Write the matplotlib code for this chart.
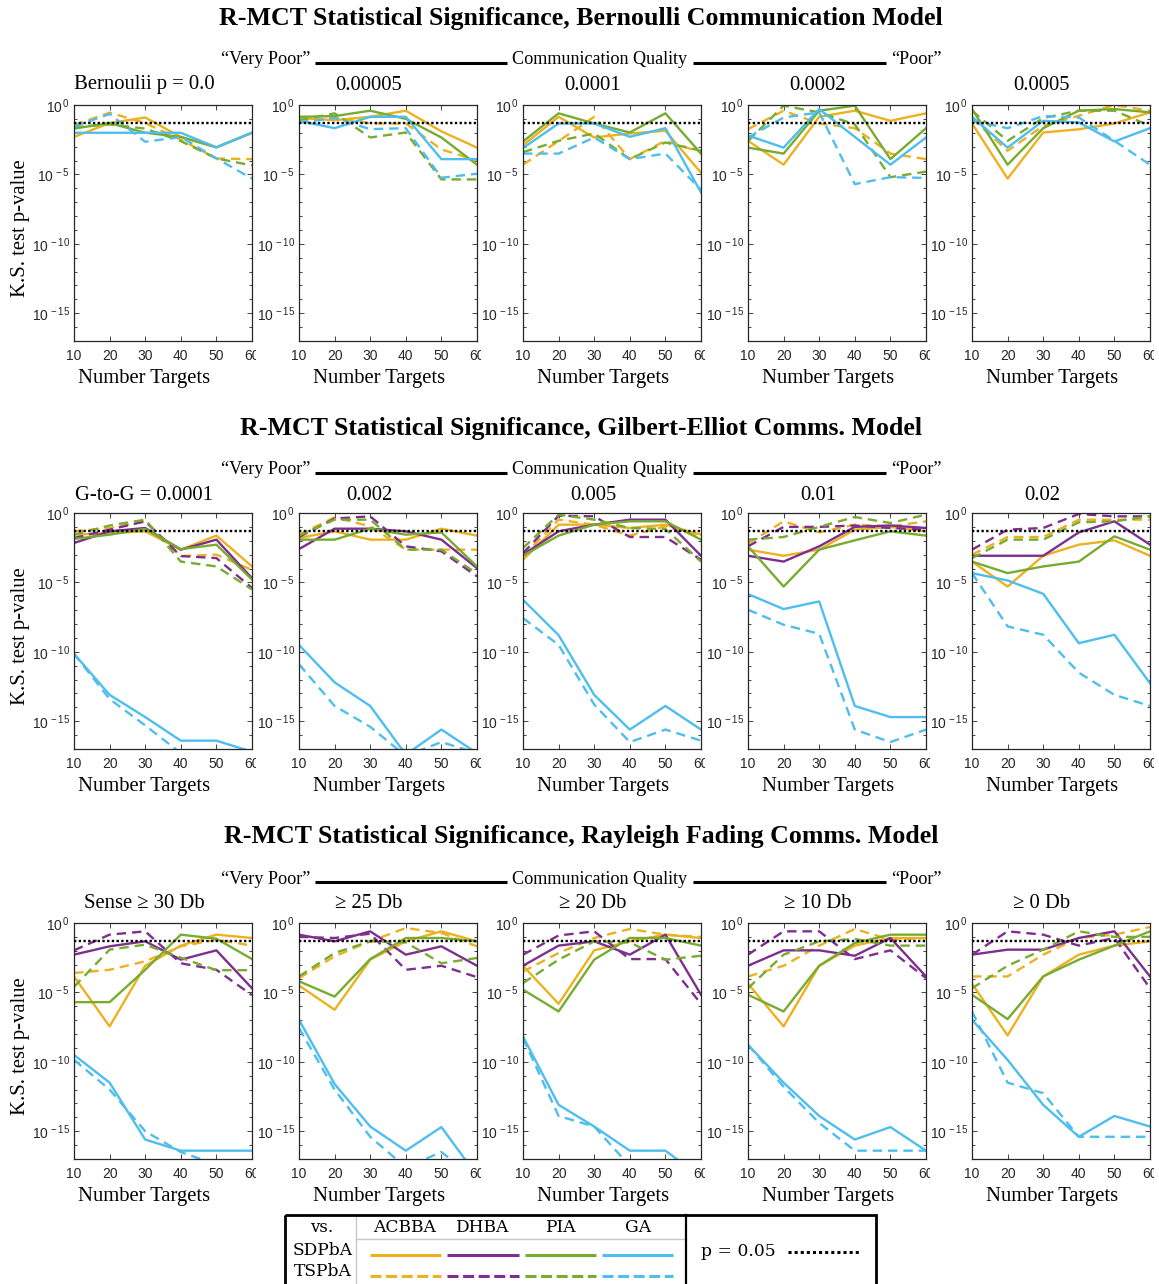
import numpy as np
import matplotlib
matplotlib.use("Agg")
import matplotlib.pyplot as plt
from matplotlib.patches import Rectangle
from matplotlib.ticker import NullFormatter
from matplotlib.transforms import Bbox, TransformedBbox

# ---------------------------------------------------------------------------
# Data: log10 of the K.S. test p-value for each algorithm,
# given as (vs. SDPbA, vs. TSPbA) over the number of targets.
# ---------------------------------------------------------------------------
targets = [10, 20, 30, 40, 50, 60]
alpha_level = 0.05
algorithms = ["ACBBA", "DHBA", "PIA", "GA"]
baselines = ["SDPbA", "TSPbA"]

bern_titles = ["Bernoulii p = 0.0", "0.00005", "0.0001", "0.0002", "0.0005"]
ge_titles = ["G-to-G = 0.0001", "0.002", "0.005", "0.01", "0.02"]
ray_titles = ["Sense \u2265 30 Db", "\u2265 25 Db", "\u2265 20 Db", "\u2265 10 Db", "\u2265 0 Db"]

row_titles = [
    "R-MCT Statistical Significance, Bernoulli Communication Model",
    "R-MCT Statistical Significance, Gilbert-Elliot Comms. Model",
    "R-MCT Statistical Significance, Rayleigh Fading Comms. Model",
]

# Bernoulli communication model
bern_0 = {
    "ACBBA": ([-2.3, -1.3, -0.9, -2.3, -3.05, -2.0], [-1.45, -0.55, -1.3, -2.5, -3.85, -3.9]),
    "PIA":   ([-1.7, -1.3, -2.0, -2.3, -3.05, -2.0], [-1.6, -1.4, -1.7, -2.6, -3.85, -4.35]),
    "GA":    ([-2.0, -2.0, -2.0, -2.0, -3.05, -2.0], [-1.55, -0.65, -2.65, -2.3, -3.85, -5.3]),
}
bern_5e5 = {
    "ACBBA": ([-0.94, -1.09, -0.85, -0.41, -1.9, -3.07], [-1.26, -0.9, -1.33, -1.33, -3.2, -4.0]),
    "PIA":   ([-0.85, -0.8, -0.41, -1.0, -2.34, -4.3], [-1.1, -0.6, -2.34, -1.98, -5.36, -5.36]),
    "GA":    ([-1.14, -1.67, -0.85, -0.85, -3.9, -3.9], [-1.26, -0.94, -1.74, -1.67, -5.24, -4.95]),
}
bern_1e4 = {
    "ACBBA": ([-2.9, -0.85, -2.34, -2.05, -1.86, -4.88], [-4.3, -2.6, -0.85, -3.9, -2.58, -3.4]),
    "PIA":   ([-2.63, -0.6, -1.33, -1.98, -0.6, -3.5], [-3.4, -2.58, -2.05, -3.9, -2.7, -3.3]),
    "GA":    ([-3.1, -1.33, -1.33, -2.29, -1.67, -6.3], [-3.5, -3.5, -2.34, -3.9, -3.5, -6.1]),
}
bern_2e4 = {
    "ACBBA": ([-2.58, -4.3, -0.85, -0.41, -1.14, -0.6], [-1.74, -0.41, -1.33, -1.67, -3.5, -3.9]),
    "PIA":   ([-3.07, -3.5, -0.41, -0.05, -3.9, -1.67], [-2.6, -0.05, -0.53, -1.4, -5.2, -4.8]),
    "GA":    ([-2.2, -3.07, -0.29, -2.3, -4.3, -2.34], [-2.34, -0.9, -0.53, -5.7, -5.2, -5.25]),
}
bern_5e4 = {
    "ACBBA": ([-1.33, -5.3, -1.98, -1.75, -1.33, -0.53], [-0.97, -3.3, -1.5, -0.77, 0.0, -0.41]),
    "PIA":   ([-0.29, -4.3, -1.67, -0.41, -0.29, -0.53], [-0.41, -2.58, -0.94, -0.41, -0.41, -1.5]),
    "GA":    ([-0.85, -3.07, -1.14, -1.26, -2.63, -1.67], [-1.14, -1.67, -0.8, -0.9, -2.58, -4.3]),
}

# Gilbert-Elliot communication model
ge_1e4 = {
    "ACBBA": ([-1.56, -1.45, -1.32, -2.64, -1.63, -3.85], [-1.32, -1.08, -0.6, -3.1, -3.0, -4.1]),
    "DHBA":  ([-2.16, -1.32, -1.08, -2.64, -1.92, -4.7], [-1.8, -1.2, -0.6, -3.1, -3.25, -5.4]),
    "PIA":   ([-1.87, -1.56, -1.15, -2.6, -2.28, -4.8], [-1.56, -0.9, -0.48, -3.5, -3.85, -5.5]),
    "GA":    ([-10.14, -13.1, -14.7, -16.4, -16.4, -17.2], [-10.14, -13.4, -15.3, -17.3, -18.0, -18.0]),
}
ge_2e3 = {
    "ACBBA": ([-1.8, -1.32, -1.92, -1.92, -1.13, -1.63], [-1.56, -0.31, -0.96, -2.64, -2.64, -2.64]),
    "DHBA":  ([-2.6, -1.13, -1.13, -1.32, -1.92, -3.97], [-1.73, -0.4, -0.24, -2.4, -2.76, -4.57]),
    "PIA":   ([-1.92, -1.92, -1.13, -1.56, -1.4, -3.85], [-1.63, -0.48, -0.48, -2.64, -2.64, -4.37]),
    "GA":    ([-9.5, -12.2, -13.9, -17.4, -15.6, -17.3], [-10.9, -13.9, -15.4, -17.5, -16.5, -17.3]),
}
ge_5e3 = {
    "ACBBA": ([-3.37, -0.84, -0.84, -1.08, -0.84, -1.56], [-3.13, -0.48, -0.84, -1.63, -0.96, -1.68]),
    "DHBA":  ([-3.0, -1.32, -0.84, -0.48, -0.48, -3.08], [-2.89, -0.2, -0.24, -1.73, -1.73, -3.37]),
    "PIA":   ([-3.08, -1.63, -0.84, -0.6, -0.6, -1.92], [-2.52, -0.12, -0.48, -1.08, -1.15, -3.5]),
    "GA":    ([-6.25, -8.8, -13.1, -15.6, -13.9, -15.6], [-7.57, -9.5, -13.8, -16.5, -15.6, -16.4]),
}
ge_1e2 = {
    "ACBBA": ([-2.64, -3.08, -2.64, -1.2, -1.0, -1.32], [-2.2, -0.6, -1.4, -0.84, -0.96, -0.6]),
    "DHBA":  ([-3.08, -3.5, -2.4, -1.0, -0.9, -1.08], [-2.4, -1.0, -1.0, -0.9, -1.08, -1.2]),
    "PIA":   ([-2.4, -5.3, -2.64, -1.97, -1.32, -1.63], [-1.92, -1.73, -1.0, -0.29, -0.72, -0.12]),
    "GA":    ([-5.84, -6.92, -6.37, -13.9, -14.7, -14.7], [-6.97, -8.05, -8.7, -15.6, -16.5, -15.6]),
}
ge_2e2 = {
    "ACBBA": ([-3.5, -5.3, -3.08, -2.28, -1.97, -3.08], [-3.0, -1.73, -1.73, -0.48, -0.48, -0.48]),
    "DHBA":  ([-3.08, -3.08, -3.08, -1.4, -0.6, -2.28], [-2.64, -1.2, -1.08, -0.07, -0.24, -0.24]),
    "PIA":   ([-3.5, -4.33, -3.85, -3.5, -1.68, -2.64], [-3.25, -1.92, -1.92, -0.67, -0.6, -0.24]),
    "GA":    ([-4.33, -4.86, -5.82, -9.38, -8.77, -12.26], [-4.33, -8.17, -8.77, -11.5, -13.1, -13.9]),
}

# Rayleigh fading communication model
ray_30 = {
    "ACBBA": ([-3.85, -7.45, -3.08, -1.63, -0.84, -1.08], [-3.6, -3.37, -2.76, -1.68, -1.2, -1.63]),
    "DHBA":  ([-2.28, -1.68, -1.32, -2.64, -1.97, -4.7], [-1.97, -0.84, -0.6, -2.9, -3.37, -5.2]),
    "PIA":   ([-5.7, -5.7, -3.37, -0.84, -1.13, -2.6], [-4.6, -1.92, -1.56, -2.5, -3.4, -3.4]),
    "GA":    ([-9.5, -11.5, -15.6, -16.4, -16.4, -16.4], [-9.86, -12.0, -15.0, -16.5, -17.4, -18.5]),
}
ray_25 = {
    "ACBBA": ([-4.5, -6.25, -2.64, -1.32, -0.6, -1.32], [-3.97, -2.4, -1.32, -0.36, -0.72, -1.68]),
    "DHBA":  ([-0.84, -1.32, -0.6, -2.28, -1.68, -3.08], [-1.0, -1.08, -0.77, -3.37, -3.08, -3.9]),
    "PIA":   ([-4.2, -5.3, -2.6, -1.08, -1.08, -1.32], [-3.85, -2.16, -1.32, -1.4, -2.9, -2.52]),
    "GA":    ([-6.97, -11.6, -14.66, -16.4, -14.7, -18.2], [-7.57, -12.0, -15.4, -17.6, -16.5, -18.5]),
}
ray_20 = {
    "ACBBA": ([-3.08, -5.82, -1.97, -1.32, -0.84, -1.08], [-3.5, -2.16, -1.08, -0.43, -0.84, -1.0]),
    "DHBA":  ([-3.08, -1.63, -1.32, -2.28, -0.84, -5.17], [-2.28, -0.9, -0.6, -2.6, -2.6, -5.82]),
    "PIA":   ([-4.8, -6.37, -2.64, -1.08, -1.08, -1.63], [-4.33, -2.64, -1.32, -1.4, -2.64, -2.36]),
    "GA":    ([-8.17, -13.1, -14.66, -16.4, -16.4, -18.3], [-8.3, -13.9, -14.66, -17.5, -18.5, -18.5]),
}
ray_10 = {
    "ACBBA": ([-4.37, -7.45, -3.08, -1.63, -1.08, -1.08], [-3.85, -3.08, -1.63, -0.43, -1.2, -1.08]),
    "DHBA":  ([-3.08, -1.97, -1.97, -2.36, -1.08, -3.85], [-2.28, -0.6, -0.6, -2.6, -1.97, -3.97]),
    "PIA":   ([-5.17, -6.37, -3.08, -1.44, -0.84, -0.84], [-4.7, -2.28, -1.32, -1.15, -1.63, -1.63]),
    "GA":    ([-8.77, -11.5, -13.9, -15.6, -14.7, -16.4], [-8.77, -11.8, -14.4, -16.4, -16.4, -16.4]),
}
ray_0 = {
    "ACBBA": ([-4.37, -8.1, -3.85, -2.28, -1.63, -1.32], [-3.85, -3.85, -2.28, -1.08, -0.84, -0.29]),
    "DHBA":  ([-2.28, -1.92, -1.92, -1.08, -0.6, -3.85], [-2.28, -0.6, -0.84, -1.63, -1.08, -4.7]),
    "PIA":   ([-5.17, -6.92, -3.85, -2.64, -1.63, -0.6], [-4.7, -3.08, -1.92, -0.6, -1.0, -1.0]),
    "GA":    ([-6.97, -9.86, -13.1, -15.4, -13.9, -14.66], [-6.37, -11.5, -12.26, -15.4, -15.4, -15.4]),
}

rows = [
    ([bern_0, bern_5e5, bern_1e4, bern_2e4, bern_5e4], bern_titles),
    ([ge_1e4, ge_2e3, ge_5e3, ge_1e2, ge_2e2], ge_titles),
    ([ray_30, ray_25, ray_20, ray_10, ray_0], ray_titles),
]

# ---------------------------------------------------------------------------
# Styling
# ---------------------------------------------------------------------------
colors = {"ACBBA": "#EDB120", "DHBA": "#7E2F8E", "PIA": "#77AC30", "GA": "#4DBEEE"}
DASH = (0, (4.0, 2.5))
DOT = (0, (1.0, 1.0))
LW = 1.7
AXC = "#262626"

SERIF = "Liberation Serif"
SANS = "Liberation Sans"
plt.rcParams["mathtext.fontset"] = "custom"
plt.rcParams["mathtext.rm"] = SANS
plt.rcParams["mathtext.it"] = SANS + ":italic"
plt.rcParams["mathtext.bf"] = SANS + ":bold"

W, H = 1159, 1284
fig = plt.figure(figsize=(W / 100, H / 100), dpi=100)

# Pixel-coordinate overlay for headings, labels and the legend table
ov = fig.add_axes([0, 0, 1, 1], zorder=-1)
ov.set_xlim(0, W)
ov.set_ylim(H, 0)
ov.axis("off")

col_left = [74, 299, 523, 748, 972]
row_top = [105, 513, 923]
AX_W, AX_H = 178, 236

main_title_y = [19, 429, 837]
header_y = [60, 470, 879]
panel_title_y = [85, 495, 903]

TITLE_FS = 18.6
HEAD_FS = 13.1
LABEL_FS = 14.9

axes_all = []
for r, (panels, titles) in enumerate(rows):
    top = row_top[r]
    # Row heading
    ov.text(581, main_title_y[r], row_titles[r], ha="center", va="center",
            family=SERIF, fontsize=TITLE_FS, fontweight="bold")
    # Communication quality scale
    hy = header_y[r]
    ov.text(310, hy, "\u201cVery Poor\u201d", ha="right", va="center", family=SERIF, fontsize=HEAD_FS)
    ov.text(600, hy, "Communication Quality", ha="center", va="center", family=SERIF, fontsize=HEAD_FS)
    ov.text(891, hy, "\u201cPoor\u201d", ha="left", va="center", family=SERIF, fontsize=HEAD_FS)
    ov.plot([315, 507], [hy + 2.7, hy + 2.7], color="black", lw=2.2, solid_capstyle="butt")
    ov.plot([693, 886], [hy + 2.7, hy + 2.7], color="black", lw=2.2, solid_capstyle="butt")

    for c in range(5):
        left = col_left[c]
        ax = fig.add_axes([left / W, 1 - (top + AX_H) / H, AX_W / W, AX_H / H])
        axes_all.append(ax)
        ax.set_yscale("log")
        data = panels[c]
        for alg in algorithms:
            if alg not in data:
                continue
            sd, ts = data[alg]
            ax.plot(targets, 10.0 ** np.array(sd), color=colors[alg], lw=LW)
            ax.plot(targets, 10.0 ** np.array(ts), color=colors[alg], lw=LW,
                    linestyle=DASH, dash_capstyle="butt")
        ax.axhline(alpha_level, color="black", lw=LW, linestyle=DOT, zorder=5)

        ax.set_xlim(10, 60)
        ax.set_ylim(1e-17, 1)
        ax.set_xticks(targets)
        ax.set_xticklabels([str(t) for t in targets])
        ax.set_yticks([1, 1e-5, 1e-10, 1e-15])
        ax.set_yticklabels([r"$10^{\,0}$", r"$10^{\,-5}$", r"$10^{\,-10}$", r"$10^{\,-15}$"])
        ax.set_yticks([10.0 ** -k for k in range(0, 18)], minor=True)
        ax.yaxis.set_minor_formatter(NullFormatter())
        ax.tick_params(which="both", direction="in", top=True, right=True, colors=AXC,
                       labelcolor=AXC)
        ax.tick_params(which="major", length=3.5, width=0.6)
        ax.tick_params(which="minor", length=2.5, width=0.6)
        ax.tick_params(axis="x", pad=6, labelsize=10)
        ax.tick_params(axis="y", pad=3, labelsize=10)
        for lab in ax.get_xticklabels() + ax.get_yticklabels():
            lab.set_family(SANS)
        for sp in ax.spines.values():
            sp.set_color(AXC)
            sp.set_linewidth(0.9)

        ov.text(left + 70, panel_title_y[r], titles[c], ha="center", va="center",
                family=SERIF, fontsize=LABEL_FS)
        ov.text(left + (70.5 if c == 0 else 80.5), top + 274, "Number Targets",
                ha="center", va="center", family=SERIF, fontsize=LABEL_FS)
        if c == 0:
            ov.text(21, top + 123.5, "K.S. test p-value", ha="center", va="center",
                    rotation=90, family=SERIF, fontsize=LABEL_FS)

# Right-most x tick labels are cut just past the axes edge
fig.canvas.draw()
for ax in axes_all:
    clip = TransformedBbox(Bbox([[-0.5, -0.5], [1.0 + 4.0 / AX_W, 1.5]]), ax.transAxes)
    for lab in ax.get_xticklabels():
        lab.set_clip_box(clip)
        lab.set_clip_on(True)

# ---------------------------------------------------------------------------
# Legend table
# ---------------------------------------------------------------------------
LSERIF = "DejaVu Serif"
ov.add_patch(Rectangle((285, 1215), 591, 90, fill=False, ec="black", lw=2.0, zorder=3))
ov.plot([356, 356], [1215, 1300], color="#c8c8c8", lw=1.0)
ov.plot([356, 686], [1238.5, 1238.5], color="#c8c8c8", lw=1.0)
ov.plot([686, 686], [1215, 1300], color="black", lw=1.6)
ov.text(322, 1227.5, "vs.", ha="center", va="center", family=LSERIF, fontsize=12)
head_x = {"ACBBA": 405, "DHBA": 482, "PIA": 560, "GA": 638}
seg_x = {"ACBBA": (370, 441), "DHBA": (447, 519), "PIA": (525, 596), "GA": (602, 673)}
for alg in algorithms:
    ov.text(head_x[alg], 1227.5, alg, ha="center", va="center", family=LSERIF, fontsize=12.3)
    x0, x1 = seg_x[alg]
    ov.plot([x0, x1], [1255, 1255], color=colors[alg], lw=2.2, solid_capstyle="butt")
    ov.plot([x0, x1], [1276, 1276], color=colors[alg], lw=2.2, linestyle=(0, (3.6, 1.5)),
            dash_capstyle="butt")
ov.text(323, 1250.5, baselines[0], ha="center", va="center", family=LSERIF, fontsize=12.3)
ov.text(323, 1271.5, baselines[1], ha="center", va="center", family=LSERIF, fontsize=12.3)
ov.text(738, 1251, "p = %.2f" % alpha_level, ha="center", va="center", family=LSERIF, fontsize=12.3)
ov.plot([788, 860], [1252, 1252], color="black", lw=2.2, linestyle=(0, (1.0, 1.0)),
        dash_capstyle="butt")

fig.savefig("out.png", dpi=100)
